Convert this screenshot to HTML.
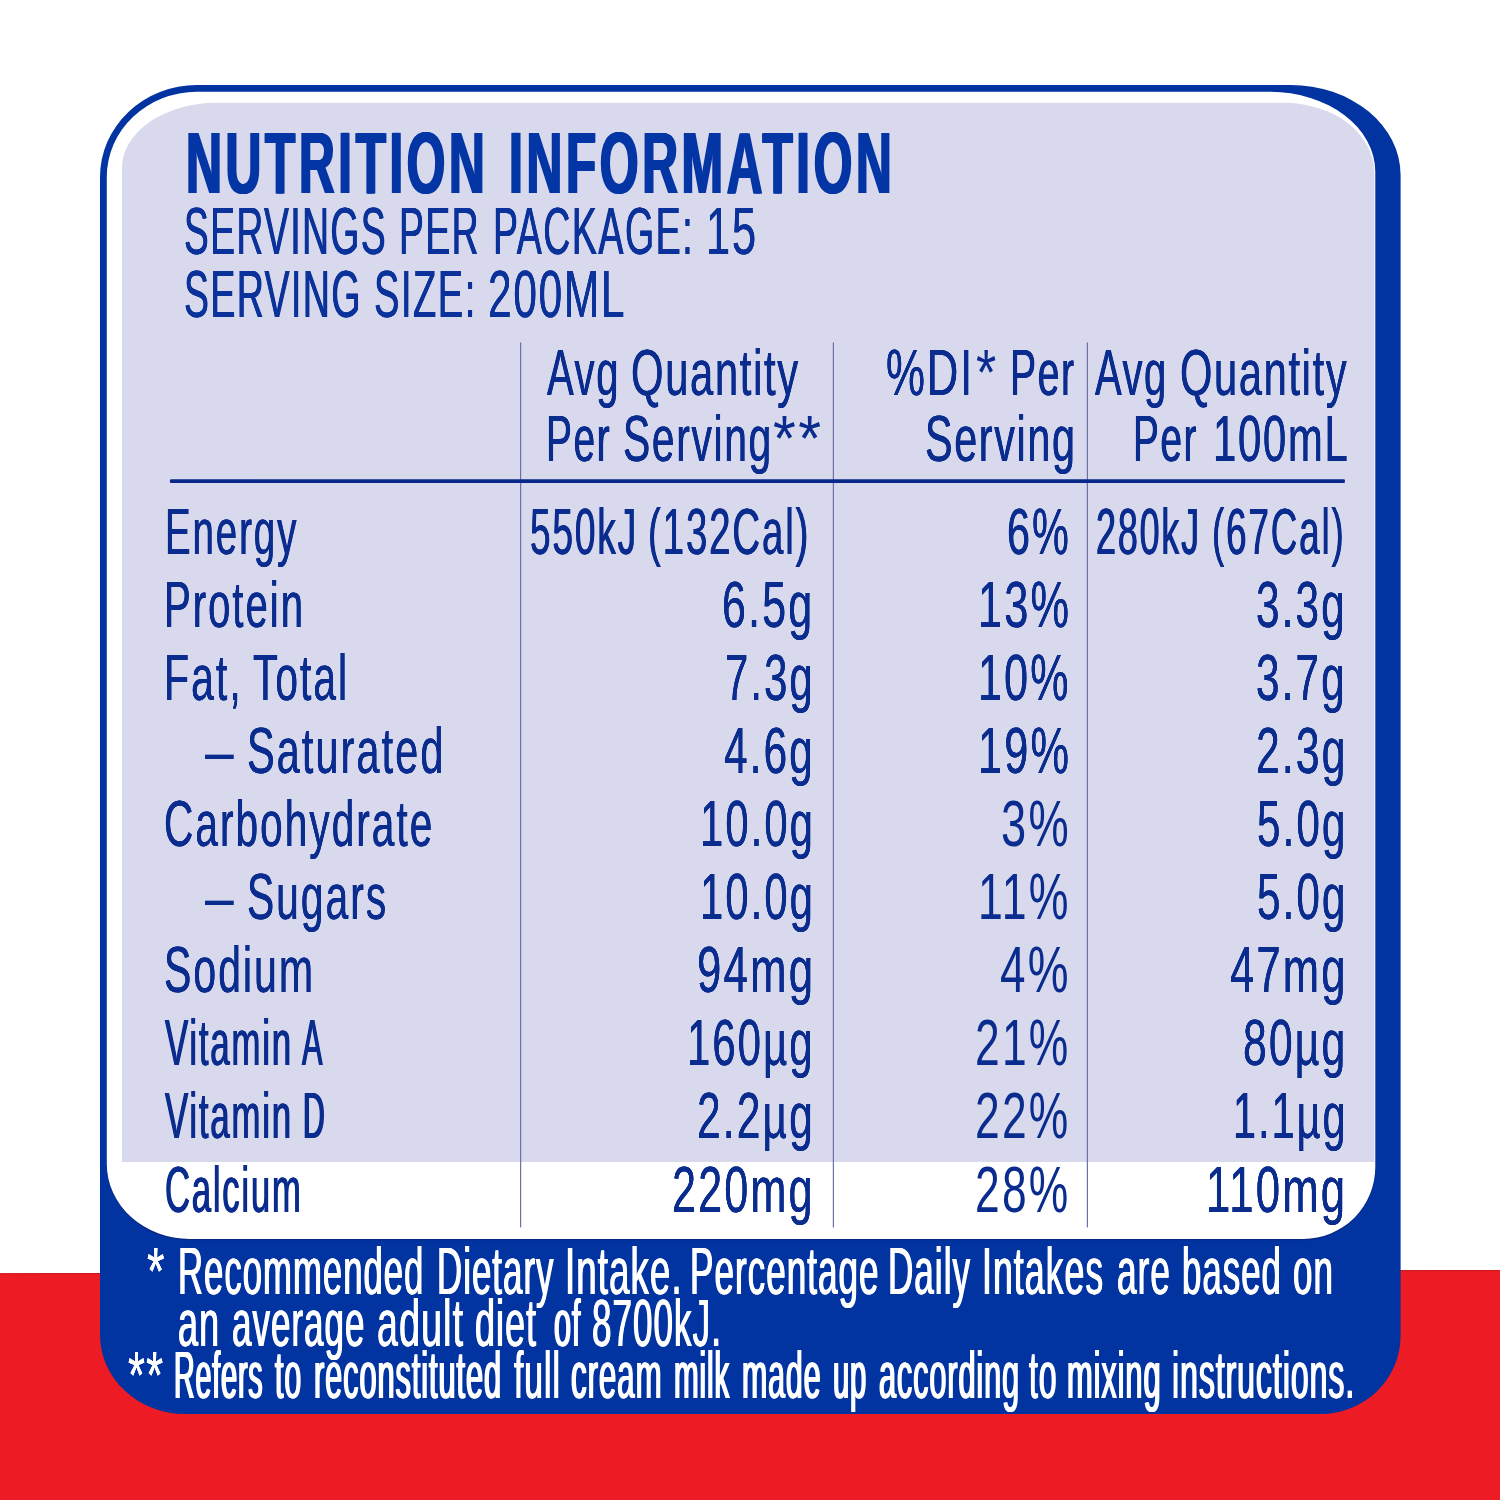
<!DOCTYPE html>
<html lang="en">
<head>
<meta charset="utf-8">
<title>Nutrition Information</title>
<style>
html,body{margin:0;padding:0;background:#fff;}
body{width:1500px;height:1500px;position:relative;overflow:hidden;font-family:"Liberation Sans",sans-serif;}
#bg{position:absolute;left:0;top:0;width:1500px;height:1500px;display:block;}
.t{position:absolute;white-space:pre;line-height:1;transform-origin:0 0;margin:0;padding:0;font-weight:400;}
.b{font-weight:700;}
</style>
</head>
<body>
<svg id="bg" width="1500" height="1500" viewBox="0 0 1500 1500">
<polygon points="0,1273.3 1500,1270 1500,1500 0,1500" fill="#ed1c24"/>
<line x1="0" y1="1273.8" x2="1500" y2="1270.5" stroke="#c9161d" stroke-width="1"/>
<path d="M197 85H1290.6A110 90 0 0 1 1400.6 175V1336A80 78 0 0 1 1320.6 1414H185A85 79 0 0 1 100 1335V177A97 92 0 0 1 197 85Z" fill="#0134a1"/>
<path d="M196.8 91.8H1270.3A105 80 0 0 1 1375.3 171.8V1167A72 72 0 0 1 1303.3 1239H189.8A83 75 0 0 1 106.8 1164V176.8A90 85 0 0 1 196.8 91.8Z" fill="#0a2784" transform="translate(0 1.3)"/>
<path d="M196.8 91.8H1270.3A105 80 0 0 1 1375.3 171.8V1167A72 72 0 0 1 1303.3 1239H189.8A83 75 0 0 1 106.8 1164V176.8A90 85 0 0 1 196.8 91.8Z" fill="#fff"/>
<path d="M217 102.8H1284.4A90 70 0 0 1 1374.4 172.8V1162H122V167.8A95 65 0 0 1 217 102.8Z" fill="#d9d9ee"/>
<g fill="#6a73a3">
<rect x="520" y="342.4" width="1.2" height="885"/>
<rect x="832.8" y="342.4" width="1.2" height="885"/>
<rect x="1086.8" y="342.4" width="1.2" height="885"/>
</g>
<rect x="169.9" y="479.3" width="1175" height="3.8" rx="1.2" fill="#08288a"/>
</svg>
<div class="g head">
<div class="ln">
<span class="t b" style="left:185.71px;top:120px;font-size:86.34px;transform:scaleX(0.5767);color:#0335a5;letter-spacing:6.04px;text-shadow:1.54px 0 0 currentColor,-1.54px 0 0 currentColor;">NUTRITION </span>
<span class="t b" style="left:509.30px;top:120px;font-size:86.34px;transform:scaleX(0.5774);color:#0335a5;letter-spacing:6.04px;text-shadow:1.53px 0 0 currentColor,-1.53px 0 0 currentColor;">INFORMATION</span>
</div>
<div class="ln">
<span class="t" style="left:183.67px;top:197px;font-size:67.15px;transform:scaleX(0.5528);color:#0a329a;letter-spacing:2.69px;text-shadow:0.60px 0 0 currentColor,-0.60px 0 0 currentColor;">SERVINGS </span>
<span class="t" style="left:398.55px;top:197px;font-size:67.15px;transform:scaleX(0.5543);color:#0a329a;letter-spacing:2.69px;text-shadow:0.59px 0 0 currentColor,-0.59px 0 0 currentColor;">PER </span>
<span class="t" style="left:492.52px;top:197px;font-size:67.15px;transform:scaleX(0.5590);color:#0a329a;letter-spacing:2.69px;text-shadow:0.56px 0 0 currentColor,-0.56px 0 0 currentColor;">PACKAGE: </span>
<span class="t" style="left:706.11px;top:197px;font-size:67.15px;transform:scaleX(0.6470);color:#0a329a;letter-spacing:2.69px;text-shadow:0.07px 0 0 currentColor,-0.07px 0 0 currentColor;">15</span>
</div>
<div class="ln">
<span class="t" style="left:183.65px;top:260px;font-size:67.15px;transform:scaleX(0.5562);color:#0a329a;letter-spacing:2.69px;text-shadow:0.57px 0 0 currentColor,-0.57px 0 0 currentColor;">SERVING </span>
<span class="t" style="left:373.58px;top:260px;font-size:67.15px;transform:scaleX(0.5673);color:#0a329a;letter-spacing:2.69px;text-shadow:0.50px 0 0 currentColor,-0.50px 0 0 currentColor;">SIZE: </span>
<span class="t" style="left:488.19px;top:260px;font-size:67.15px;transform:scaleX(0.6321);color:#0a329a;letter-spacing:2.69px;text-shadow:0.14px 0 0 currentColor,-0.14px 0 0 currentColor;">200ML</span>
</div>
</div>
<div class="g th">
<div class="ln">
<span class="t" style="left:546.85px;top:341px;font-size:64.97px;transform:scaleX(0.6161);color:#0a2c8e;letter-spacing:2.6px;text-shadow:0.40px 0 0 currentColor,-0.40px 0 0 currentColor;">Avg </span>
<span class="t" style="left:631.04px;top:341px;font-size:64.97px;transform:scaleX(0.6425);color:#0a2c8e;letter-spacing:2.6px;text-shadow:0.27px 0 0 currentColor,-0.27px 0 0 currentColor;">Quantity</span>
</div>
<div class="ln">
<span class="t" style="left:545.81px;top:407px;font-size:64.97px;transform:scaleX(0.5980);color:#0a2c8e;letter-spacing:2.6px;text-shadow:0.50px 0 0 currentColor,-0.50px 0 0 currentColor;">Per </span>
<span class="t" style="left:622.96px;top:407px;font-size:64.97px;transform:scaleX(0.6284);color:#0a2c8e;letter-spacing:2.6px;text-shadow:0.34px 0 0 currentColor,-0.34px 0 0 currentColor;">Serving</span><span class="t" style="left:772.70px;top:407px;font-size:64.97px;transform:scaleX(0.9020);color:#0a2c8e;letter-spacing:2.6px;">**</span>
</div>
<div class="ln">
<span class="t" style="left:886.33px;top:341px;font-size:64.97px;transform:scaleX(0.6737);color:#0a2c8e;letter-spacing:2.6px;text-shadow:0.12px 0 0 currentColor,-0.12px 0 0 currentColor;">%DI</span><span class="t" style="left:975.60px;top:341px;font-size:64.97px;transform:scaleX(0.8000);color:#0a2c8e;letter-spacing:2.6px;">* </span>
<span class="t" style="left:1009.68px;top:341px;font-size:64.97px;transform:scaleX(0.6022);color:#0a2c8e;letter-spacing:2.6px;text-shadow:0.48px 0 0 currentColor,-0.48px 0 0 currentColor;">Per</span>
</div>
<div class="ln">
<span class="t" style="left:924.92px;top:407px;font-size:64.97px;transform:scaleX(0.6355);color:#0a2c8e;letter-spacing:2.6px;text-shadow:0.30px 0 0 currentColor,-0.30px 0 0 currentColor;">Serving</span>
</div>
<div class="ln">
<span class="t" style="left:1094.95px;top:341px;font-size:64.97px;transform:scaleX(0.6151);color:#0a2c8e;letter-spacing:2.6px;text-shadow:0.41px 0 0 currentColor,-0.41px 0 0 currentColor;">Avg </span>
<span class="t" style="left:1179.56px;top:341px;font-size:64.97px;transform:scaleX(0.6405);color:#0a2c8e;letter-spacing:2.6px;text-shadow:0.28px 0 0 currentColor,-0.28px 0 0 currentColor;">Quantity</span>
</div>
<div class="ln">
<span class="t" style="left:1133.02px;top:407px;font-size:64.97px;transform:scaleX(0.5969);color:#0a2c8e;letter-spacing:2.6px;text-shadow:0.51px 0 0 currentColor,-0.51px 0 0 currentColor;">Per </span>
<span class="t" style="left:1212.69px;top:407px;font-size:64.97px;transform:scaleX(0.6444);color:#0a2c8e;letter-spacing:2.6px;text-shadow:0.26px 0 0 currentColor,-0.26px 0 0 currentColor;">100mL</span>
</div>
</div>
<div class="g row0">
<div class="ln">
<span class="t" style="left:164.82px;top:499px;font-size:65.12px;transform:scaleX(0.5901);color:#0a2c8e;letter-spacing:3.26px;text-shadow:0.46px 0 0 currentColor,-0.46px 0 0 currentColor;">Energy</span>
</div>
<div class="ln">
<span class="t" style="left:529.60px;top:499px;font-size:65.12px;transform:scaleX(0.5683);color:#0a2c8e;letter-spacing:3.26px;text-shadow:0.59px 0 0 currentColor,-0.59px 0 0 currentColor;">550kJ </span>
<span class="t" style="left:648.42px;top:499px;font-size:65.12px;transform:scaleX(0.5885);color:#0a2c8e;letter-spacing:3.26px;text-shadow:0.47px 0 0 currentColor,-0.47px 0 0 currentColor;">(132Cal)</span>
</div>
<div class="ln">
<span class="t" style="left:1006.84px;top:499px;font-size:65.12px;transform:scaleX(0.6339);color:#0a2c8e;letter-spacing:3.26px;text-shadow:0.22px 0 0 currentColor,-0.22px 0 0 currentColor;">6%</span>
</div>
<div class="ln">
<span class="t" style="left:1095.73px;top:499px;font-size:65.12px;transform:scaleX(0.5520);color:#0a2c8e;letter-spacing:3.26px;text-shadow:0.69px 0 0 currentColor,-0.69px 0 0 currentColor;">280kJ </span>
<span class="t" style="left:1211.78px;top:499px;font-size:65.12px;transform:scaleX(0.5654);color:#0a2c8e;letter-spacing:3.26px;text-shadow:0.61px 0 0 currentColor,-0.61px 0 0 currentColor;">(67Cal)</span>
</div>
</div>
<div class="g row1">
<div class="ln">
<span class="t" style="left:164.12px;top:572px;font-size:65.12px;transform:scaleX(0.6153);color:#0a2c8e;letter-spacing:3.26px;text-shadow:0.32px 0 0 currentColor,-0.32px 0 0 currentColor;">Protein</span>
</div>
<div class="ln">
<span class="t" style="left:722.28px;top:572px;font-size:65.12px;transform:scaleX(0.6606);color:#0a2c8e;letter-spacing:3.26px;text-shadow:0.10px 0 0 currentColor,-0.10px 0 0 currentColor;">6.5g</span>
</div>
<div class="ln">
<span class="t" style="left:977.69px;top:572px;font-size:65.12px;transform:scaleX(0.6652);color:#0a2c8e;letter-spacing:3.26px;text-shadow:0.08px 0 0 currentColor,-0.08px 0 0 currentColor;">13%</span>
</div>
<div class="ln">
<span class="t" style="left:1256.30px;top:572px;font-size:65.12px;transform:scaleX(0.6498);color:#0a2c8e;letter-spacing:3.26px;text-shadow:0.15px 0 0 currentColor,-0.15px 0 0 currentColor;">3.3g</span>
</div>
</div>
<div class="g row2">
<div class="ln">
<span class="t" style="left:164.31px;top:645px;font-size:65.12px;transform:scaleX(0.6293);color:#0a2c8e;letter-spacing:3.26px;text-shadow:0.25px 0 0 currentColor,-0.25px 0 0 currentColor;">Fat, </span>
<span class="t" style="left:252.84px;top:645px;font-size:65.12px;transform:scaleX(0.6246);color:#0a2c8e;letter-spacing:3.26px;text-shadow:0.27px 0 0 currentColor,-0.27px 0 0 currentColor;">Total</span>
</div>
<div class="ln">
<span class="t" style="left:724.69px;top:645px;font-size:65.12px;transform:scaleX(0.6421);color:#0a2c8e;letter-spacing:3.26px;text-shadow:0.18px 0 0 currentColor,-0.18px 0 0 currentColor;">7.3g</span>
</div>
<div class="ln">
<span class="t" style="left:978.22px;top:645px;font-size:65.12px;transform:scaleX(0.6612);color:#0a2c8e;letter-spacing:3.26px;text-shadow:0.09px 0 0 currentColor,-0.09px 0 0 currentColor;">10%</span>
</div>
<div class="ln">
<span class="t" style="left:1256.30px;top:645px;font-size:65.12px;transform:scaleX(0.6498);color:#0a2c8e;letter-spacing:3.26px;text-shadow:0.15px 0 0 currentColor,-0.15px 0 0 currentColor;">3.7g</span>
</div>
</div>
<div class="g row3">
<div class="ln">
<span class="t" style="left:205.30px;top:718px;font-size:65.12px;transform:scaleX(0.7946);color:#0a2c8e;letter-spacing:3.26px;">– </span>
<span class="t" style="left:246.86px;top:718px;font-size:65.12px;transform:scaleX(0.6366);color:#0a2c8e;letter-spacing:3.26px;text-shadow:0.21px 0 0 currentColor,-0.21px 0 0 currentColor;">Saturated</span>
</div>
<div class="ln">
<span class="t" style="left:723.64px;top:718px;font-size:65.12px;transform:scaleX(0.6502);color:#0a2c8e;letter-spacing:3.26px;text-shadow:0.15px 0 0 currentColor,-0.15px 0 0 currentColor;">4.6g</span>
</div>
<div class="ln">
<span class="t" style="left:977.69px;top:718px;font-size:65.12px;transform:scaleX(0.6652);color:#0a2c8e;letter-spacing:3.26px;text-shadow:0.08px 0 0 currentColor,-0.08px 0 0 currentColor;">19%</span>
</div>
<div class="ln">
<span class="t" style="left:1255.62px;top:718px;font-size:65.12px;transform:scaleX(0.6550);color:#0a2c8e;letter-spacing:3.26px;text-shadow:0.12px 0 0 currentColor,-0.12px 0 0 currentColor;">2.3g</span>
</div>
</div>
<div class="g row4">
<div class="ln">
<span class="t" style="left:163.60px;top:791px;font-size:65.12px;transform:scaleX(0.6234);color:#0a2c8e;letter-spacing:3.26px;text-shadow:0.28px 0 0 currentColor,-0.28px 0 0 currentColor;">Carbohydrate</span>
</div>
<div class="ln">
<span class="t" style="left:699.55px;top:791px;font-size:65.12px;transform:scaleX(0.6415);color:#0a2c8e;letter-spacing:3.26px;text-shadow:0.19px 0 0 currentColor,-0.19px 0 0 currentColor;">10.0g</span>
</div>
<div class="ln">
<span class="t" style="left:1001.21px;top:791px;font-size:65.12px;transform:scaleX(0.6943);color:#0a2c8e;letter-spacing:3.26px;">3%</span>
</div>
<div class="ln">
<span class="t" style="left:1256.71px;top:791px;font-size:65.12px;transform:scaleX(0.6474);color:#0a2c8e;letter-spacing:3.26px;text-shadow:0.16px 0 0 currentColor,-0.16px 0 0 currentColor;">5.0g</span>
</div>
</div>
<div class="g row5">
<div class="ln">
<span class="t" style="left:205.30px;top:864px;font-size:65.12px;transform:scaleX(0.7946);color:#0a2c8e;letter-spacing:3.26px;">– </span>
<span class="t" style="left:246.92px;top:864px;font-size:65.12px;transform:scaleX(0.6253);color:#0a2c8e;letter-spacing:3.26px;text-shadow:0.27px 0 0 currentColor,-0.27px 0 0 currentColor;">Sugars</span>
</div>
<div class="ln">
<span class="t" style="left:699.55px;top:864px;font-size:65.12px;transform:scaleX(0.6415);color:#0a2c8e;letter-spacing:3.26px;text-shadow:0.19px 0 0 currentColor,-0.19px 0 0 currentColor;">10.0g</span>
</div>
<div class="ln">
<span class="t" style="left:978.26px;top:864px;font-size:65.12px;transform:scaleX(0.6859);color:#0a2c8e;letter-spacing:3.26px;">11%</span>
</div>
<div class="ln">
<span class="t" style="left:1256.71px;top:864px;font-size:65.12px;transform:scaleX(0.6474);color:#0a2c8e;letter-spacing:3.26px;text-shadow:0.16px 0 0 currentColor,-0.16px 0 0 currentColor;">5.0g</span>
</div>
</div>
<div class="g row6">
<div class="ln">
<span class="t" style="left:164.20px;top:937px;font-size:65.12px;transform:scaleX(0.6285);color:#0a2c8e;letter-spacing:3.26px;text-shadow:0.25px 0 0 currentColor,-0.25px 0 0 currentColor;">Sodium</span>
</div>
<div class="ln">
<span class="t" style="left:696.62px;top:937px;font-size:65.12px;transform:scaleX(0.6720);color:#0a2c8e;letter-spacing:3.26px;text-shadow:0.05px 0 0 currentColor,-0.05px 0 0 currentColor;">94mg</span>
</div>
<div class="ln">
<span class="t" style="left:1000.30px;top:937px;font-size:65.12px;transform:scaleX(0.7039);color:#0a2c8e;letter-spacing:3.26px;">4%</span>
</div>
<div class="ln">
<span class="t" style="left:1229.67px;top:937px;font-size:65.12px;transform:scaleX(0.6692);color:#0a2c8e;letter-spacing:3.26px;text-shadow:0.06px 0 0 currentColor,-0.06px 0 0 currentColor;">47mg</span>
</div>
</div>
<div class="g row7">
<div class="ln">
<span class="t" style="left:164.73px;top:1010px;font-size:65.12px;transform:scaleX(0.5355);color:#0a2c8e;letter-spacing:3.26px;text-shadow:0.80px 0 0 currentColor,-0.80px 0 0 currentColor;">Vitamin </span>
<span class="t" style="left:302.32px;top:1010px;font-size:65.12px;transform:scaleX(0.4720);color:#0a2c8e;letter-spacing:3.26px;text-shadow:1.31px 0 0 currentColor,-1.31px 0 0 currentColor;">A</span>
</div>
<div class="ln">
<span class="t" style="left:686.95px;top:1010px;font-size:65.12px;transform:scaleX(0.6423);color:#0a2c8e;letter-spacing:3.26px;text-shadow:0.18px 0 0 currentColor,-0.18px 0 0 currentColor;">160µg</span>
</div>
<div class="ln">
<span class="t" style="left:975.45px;top:1010px;font-size:65.12px;transform:scaleX(0.6821);color:#0a2c8e;letter-spacing:3.26px;">21%</span>
</div>
<div class="ln">
<span class="t" style="left:1242.87px;top:1010px;font-size:65.12px;transform:scaleX(0.6558);color:#0a2c8e;letter-spacing:3.26px;text-shadow:0.12px 0 0 currentColor,-0.12px 0 0 currentColor;">80µg</span>
</div>
</div>
<div class="g row8">
<div class="ln">
<span class="t" style="left:164.73px;top:1083px;font-size:65.12px;transform:scaleX(0.5355);color:#0a2c8e;letter-spacing:3.26px;text-shadow:0.80px 0 0 currentColor,-0.80px 0 0 currentColor;">Vitamin </span>
<span class="t" style="left:303.34px;top:1083px;font-size:65.12px;transform:scaleX(0.4617);color:#0a2c8e;letter-spacing:3.26px;text-shadow:1.40px 0 0 currentColor,-1.40px 0 0 currentColor;">D</span>
</div>
<div class="ln">
<span class="t" style="left:696.73px;top:1083px;font-size:65.12px;transform:scaleX(0.6531);color:#0a2c8e;letter-spacing:3.26px;text-shadow:0.13px 0 0 currentColor,-0.13px 0 0 currentColor;">2.2µg</span>
</div>
<div class="ln">
<span class="t" style="left:975.45px;top:1083px;font-size:65.12px;transform:scaleX(0.6821);color:#0a2c8e;letter-spacing:3.26px;">22%</span>
</div>
<div class="ln">
<span class="t" style="left:1232.50px;top:1083px;font-size:65.12px;transform:scaleX(0.6346);color:#0a2c8e;letter-spacing:3.26px;text-shadow:0.22px 0 0 currentColor,-0.22px 0 0 currentColor;">1.1µg</span>
</div>
</div>
<div class="g row9">
<div class="ln">
<span class="t" style="left:164.74px;top:1157px;font-size:65.12px;transform:scaleX(0.5331);color:#0a2c8e;letter-spacing:3.26px;text-shadow:0.82px 0 0 currentColor,-0.82px 0 0 currentColor;">Calcium</span>
</div>
<div class="ln">
<span class="t" style="left:672.07px;top:1157px;font-size:65.12px;transform:scaleX(0.6623);color:#0a2c8e;letter-spacing:3.26px;text-shadow:0.09px 0 0 currentColor,-0.09px 0 0 currentColor;">220mg</span>
</div>
<div class="ln">
<span class="t" style="left:975.45px;top:1157px;font-size:65.12px;transform:scaleX(0.6821);color:#0a2c8e;letter-spacing:3.26px;">28%</span>
</div>
<div class="ln">
<span class="t" style="left:1206.15px;top:1157px;font-size:65.12px;transform:scaleX(0.6709);color:#0a2c8e;letter-spacing:3.26px;text-shadow:0.05px 0 0 currentColor,-0.05px 0 0 currentColor;">110mg</span>
</div>
</div>
<div class="g foot">
<div class="ln">
<span class="t" style="left:146.86px;top:1237px;font-size:67.44px;transform:scaleX(0.6656);color:#ffffff;letter-spacing:2.02px;text-shadow:0.05px 0 0 currentColor,-0.05px 0 0 currentColor;">* </span>
<span class="t" style="left:177.92px;top:1237px;font-size:67.44px;transform:scaleX(0.5139);color:#ffffff;letter-spacing:2.02px;text-shadow:0.95px 0 0 currentColor,-0.95px 0 0 currentColor;">Recommended </span>
<span class="t" style="left:436.90px;top:1237px;font-size:67.44px;transform:scaleX(0.5160);color:#ffffff;letter-spacing:2.02px;text-shadow:0.94px 0 0 currentColor,-0.94px 0 0 currentColor;">Dietary </span>
<span class="t" style="left:565.14px;top:1237px;font-size:67.44px;transform:scaleX(0.5433);color:#ffffff;letter-spacing:2.02px;text-shadow:0.74px 0 0 currentColor,-0.74px 0 0 currentColor;">Intake. </span>
<span class="t" style="left:690.28px;top:1237px;font-size:67.44px;transform:scaleX(0.5193);color:#ffffff;letter-spacing:2.02px;text-shadow:0.91px 0 0 currentColor,-0.91px 0 0 currentColor;">Percentage </span>
<span class="t" style="left:887.88px;top:1237px;font-size:67.44px;transform:scaleX(0.5191);color:#ffffff;letter-spacing:2.02px;text-shadow:0.91px 0 0 currentColor,-0.91px 0 0 currentColor;">Daily </span>
<span class="t" style="left:982.28px;top:1237px;font-size:67.44px;transform:scaleX(0.5279);color:#ffffff;letter-spacing:2.02px;text-shadow:0.85px 0 0 currentColor,-0.85px 0 0 currentColor;">Intakes </span>
<span class="t" style="left:1117.43px;top:1237px;font-size:67.44px;transform:scaleX(0.5213);color:#ffffff;letter-spacing:2.02px;text-shadow:0.90px 0 0 currentColor,-0.90px 0 0 currentColor;">are </span>
<span class="t" style="left:1182.42px;top:1237px;font-size:67.44px;transform:scaleX(0.5156);color:#ffffff;letter-spacing:2.02px;text-shadow:0.94px 0 0 currentColor,-0.94px 0 0 currentColor;">based </span>
<span class="t" style="left:1293.44px;top:1237px;font-size:67.44px;transform:scaleX(0.5179);color:#ffffff;letter-spacing:2.02px;text-shadow:0.92px 0 0 currentColor,-0.92px 0 0 currentColor;">on</span>
</div>
<div class="ln">
<span class="t" style="left:178.37px;top:1289px;font-size:67.44px;transform:scaleX(0.5332);color:#ffffff;letter-spacing:2.02px;text-shadow:0.81px 0 0 currentColor,-0.81px 0 0 currentColor;">an </span>
<span class="t" style="left:232.44px;top:1289px;font-size:67.44px;transform:scaleX(0.5174);color:#ffffff;letter-spacing:2.02px;text-shadow:0.93px 0 0 currentColor,-0.93px 0 0 currentColor;">average </span>
<span class="t" style="left:377.05px;top:1289px;font-size:67.44px;transform:scaleX(0.5570);color:#ffffff;letter-spacing:2.02px;text-shadow:0.65px 0 0 currentColor,-0.65px 0 0 currentColor;">adult </span>
<span class="t" style="left:475.37px;top:1289px;font-size:67.44px;transform:scaleX(0.5319);color:#ffffff;letter-spacing:2.02px;text-shadow:0.82px 0 0 currentColor,-0.82px 0 0 currentColor;">diet </span>
<span class="t" style="left:553.76px;top:1289px;font-size:67.44px;transform:scaleX(0.4539);color:#ffffff;letter-spacing:2.02px;text-shadow:1.48px 0 0 currentColor,-1.48px 0 0 currentColor;">of </span>
<span class="t" style="left:592.44px;top:1289px;font-size:67.44px;transform:scaleX(0.5190);color:#ffffff;letter-spacing:2.02px;text-shadow:0.92px 0 0 currentColor,-0.92px 0 0 currentColor;">8700kJ.</span>
</div>
<div class="ln">
<span class="t" style="left:127.95px;top:1341px;font-size:67.44px;transform:scaleX(0.6441);color:#ffffff;letter-spacing:2.02px;text-shadow:0.15px 0 0 currentColor,-0.15px 0 0 currentColor;">** </span>
<span class="t" style="left:174.34px;top:1341px;font-size:67.44px;transform:scaleX(0.4246);color:#ffffff;letter-spacing:2.02px;text-shadow:1.79px 0 0 currentColor,-1.79px 0 0 currentColor;">Refers </span>
<span class="t" style="left:275.24px;top:1341px;font-size:67.44px;transform:scaleX(0.4498);color:#ffffff;letter-spacing:2.02px;text-shadow:1.52px 0 0 currentColor,-1.52px 0 0 currentColor;">to </span>
<span class="t" style="left:313.84px;top:1341px;font-size:67.44px;transform:scaleX(0.4559);color:#ffffff;letter-spacing:2.02px;text-shadow:1.46px 0 0 currentColor,-1.46px 0 0 currentColor;">reconstituted </span>
<span class="t" style="left:513.54px;top:1341px;font-size:67.44px;transform:scaleX(0.4975);color:#ffffff;letter-spacing:2.02px;text-shadow:1.09px 0 0 currentColor,-1.09px 0 0 currentColor;">full </span>
<span class="t" style="left:570.72px;top:1341px;font-size:67.44px;transform:scaleX(0.4634);color:#ffffff;letter-spacing:2.02px;text-shadow:1.39px 0 0 currentColor,-1.39px 0 0 currentColor;">cream </span>
<span class="t" style="left:673.97px;top:1341px;font-size:67.44px;transform:scaleX(0.4383);color:#ffffff;letter-spacing:2.02px;text-shadow:1.64px 0 0 currentColor,-1.64px 0 0 currentColor;">milk </span>
<span class="t" style="left:741.89px;top:1341px;font-size:67.44px;transform:scaleX(0.4495);color:#ffffff;letter-spacing:2.02px;text-shadow:1.53px 0 0 currentColor,-1.53px 0 0 currentColor;">made </span>
<span class="t" style="left:833.00px;top:1341px;font-size:67.44px;transform:scaleX(0.4329);color:#ffffff;letter-spacing:2.02px;text-shadow:1.70px 0 0 currentColor,-1.70px 0 0 currentColor;">up </span>
<span class="t" style="left:878.76px;top:1341px;font-size:67.44px;transform:scaleX(0.4542);color:#ffffff;letter-spacing:2.02px;text-shadow:1.48px 0 0 currentColor,-1.48px 0 0 currentColor;">according </span>
<span class="t" style="left:1029.15px;top:1341px;font-size:67.44px;transform:scaleX(0.4704);color:#ffffff;letter-spacing:2.02px;text-shadow:1.32px 0 0 currentColor,-1.32px 0 0 currentColor;">to </span>
<span class="t" style="left:1066.84px;top:1341px;font-size:67.44px;transform:scaleX(0.4566);color:#ffffff;letter-spacing:2.02px;text-shadow:1.45px 0 0 currentColor,-1.45px 0 0 currentColor;">mixing </span>
<span class="t" style="left:1172.21px;top:1341px;font-size:67.44px;transform:scaleX(0.4744);color:#ffffff;letter-spacing:2.02px;text-shadow:1.29px 0 0 currentColor,-1.29px 0 0 currentColor;">instructions.</span>
</div>
</div>
</body>
</html>
